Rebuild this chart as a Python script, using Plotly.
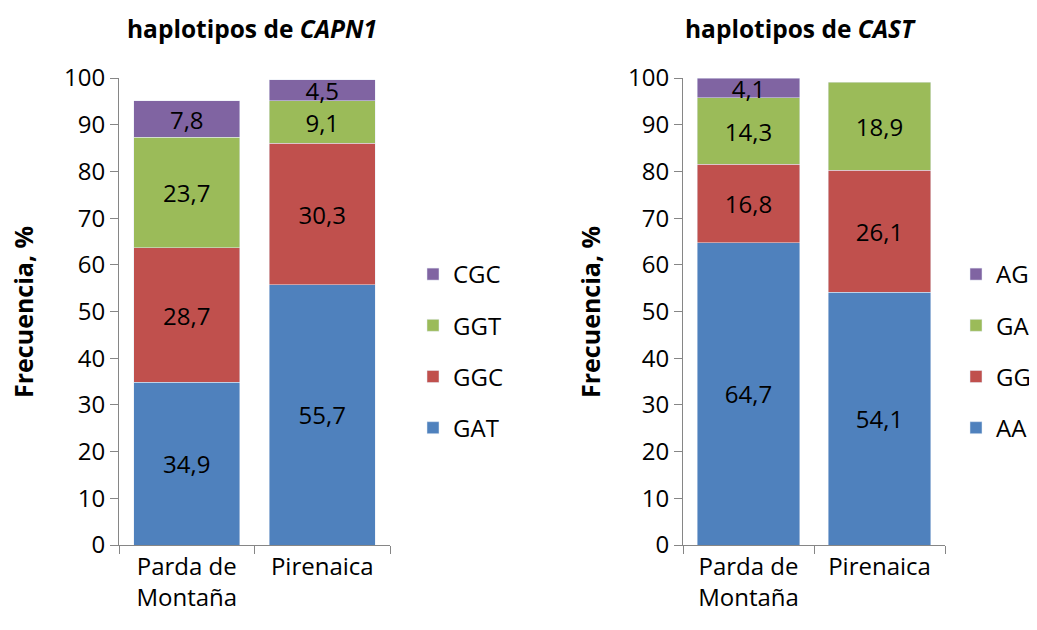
import plotly.graph_objects as go

# datos
razas = ["Parda de<br>Montaña", "Pirenaica"]

capn1_hap = ["GAT", "GGC", "GGT", "CGC"]
capn1_gat = [34.9, 55.7]
capn1_ggc = [28.7, 30.3]
capn1_ggt = [23.7, 9.1]
capn1_cgc = [7.8, 4.5]

cast_hap = ["AA", "GG", "GA", "AG"]
cast_aa = [64.7, 54.1]
cast_gg = [16.8, 26.1]
cast_ga = [14.3, 18.9]
cast_ag = [4.1, None]

colores = ["#4F81BD", "#C0504D", "#9BBB59", "#8064A2"]
FONT = "Open Sans"
W, H = 1021, 614  # la pagina deja 8 px de margen


def px_x(x):
    return (x - 8) / W


def px_y(y):
    return 1 - (y - 8) / H


def etiquetas(vals):
    return [("" if v is None else f"{v:.1f}".replace(".", ",")) for v in vals]


fig = go.Figure()

for i, (nombre, vals) in enumerate(zip(capn1_hap, [capn1_gat, capn1_ggc, capn1_ggt, capn1_cgc])):
    fig.add_trace(go.Bar(
        x=razas, y=vals, name=nombre, marker_color=colores[i],
        text=etiquetas(vals), textposition="inside", insidetextanchor="middle",
        textangle=0, constraintext="none", textfont=dict(size=24, color="black"),
        xaxis="x", yaxis="y", legend="legend", legendgroup="c" + nombre, legendrank=10 - i,
    ))

for i, (nombre, vals) in enumerate(zip(cast_hap, [cast_aa, cast_gg, cast_ga, cast_ag])):
    fig.add_trace(go.Bar(
        x=razas, y=vals, name=nombre, marker_color=colores[i],
        text=etiquetas(vals), textposition="inside", insidetextanchor="middle",
        textangle=0, constraintext="none", textfont=dict(size=24, color="black"),
        xaxis="x2", yaxis="y2", legend="legend2", legendgroup="k" + nombre, legendrank=10 - i,
    ))

eje_y = dict(range=[0, 100], dtick=10, showgrid=False, showline=True, linecolor="#868686",
             ticks="outside", ticklen=8, tickcolor="#868686", tickfont=dict(size=24, color="black"),
             zeroline=False, fixedrange=True)
eje_x = dict(showline=True, linecolor="#868686", ticks="outside", ticklen=8, tickcolor="#868686",
             tickson="boundaries", tickfont=dict(size=24, color="black"), showgrid=False)

leyenda = dict(font=dict(size=24, color="black"), traceorder="grouped", tracegroupgap=17,
               yanchor="top", y=px_y(252), bgcolor="rgba(0,0,0,0)", itemwidth=30)

titulo = dict(xref="paper", yref="paper", showarrow=False, xanchor="center", yanchor="middle")

fig.update_layout(
    width=W, height=H,
    margin=dict(l=0, r=0, t=0, b=0, autoexpand=False),
    paper_bgcolor="white", plot_bgcolor="white",
    font=dict(family=FONT, color="black"),
    barmode="stack", bargap=0.22,
    xaxis=dict(domain=[px_x(119), px_x(390)], anchor="y", **eje_x),
    yaxis=dict(domain=[px_y(545), px_y(78)], anchor="x", **eje_y),
    xaxis2=dict(domain=[px_x(683), px_x(945)], anchor="y2", **eje_x),
    yaxis2=dict(domain=[px_y(545), px_y(78)], anchor="x2", **eje_y),
    legend=dict(x=px_x(413), xanchor="left", **leyenda),
    legend2=dict(x=px_x(956), xanchor="left", **leyenda),
    annotations=[
        dict(text="<b>haplotipos de <i>CAPN1</i></b>", x=px_x(252), y=px_y(28),
             font=dict(size=24.5), **titulo),
        dict(text="<b>haplotipos de <i>CAST</i></b>", x=px_x(800), y=px_y(28),
             font=dict(size=24.5), **titulo),
        dict(text="<b>Frecuencia, %</b>", x=px_x(23), y=px_y(312), textangle=-90,
             font=dict(size=25), **titulo),
        dict(text="<b>Frecuencia, %</b>", x=px_x(590), y=px_y(312), textangle=-90,
             font=dict(size=25), **titulo),
    ],
)

fig.write_html("out.html")
